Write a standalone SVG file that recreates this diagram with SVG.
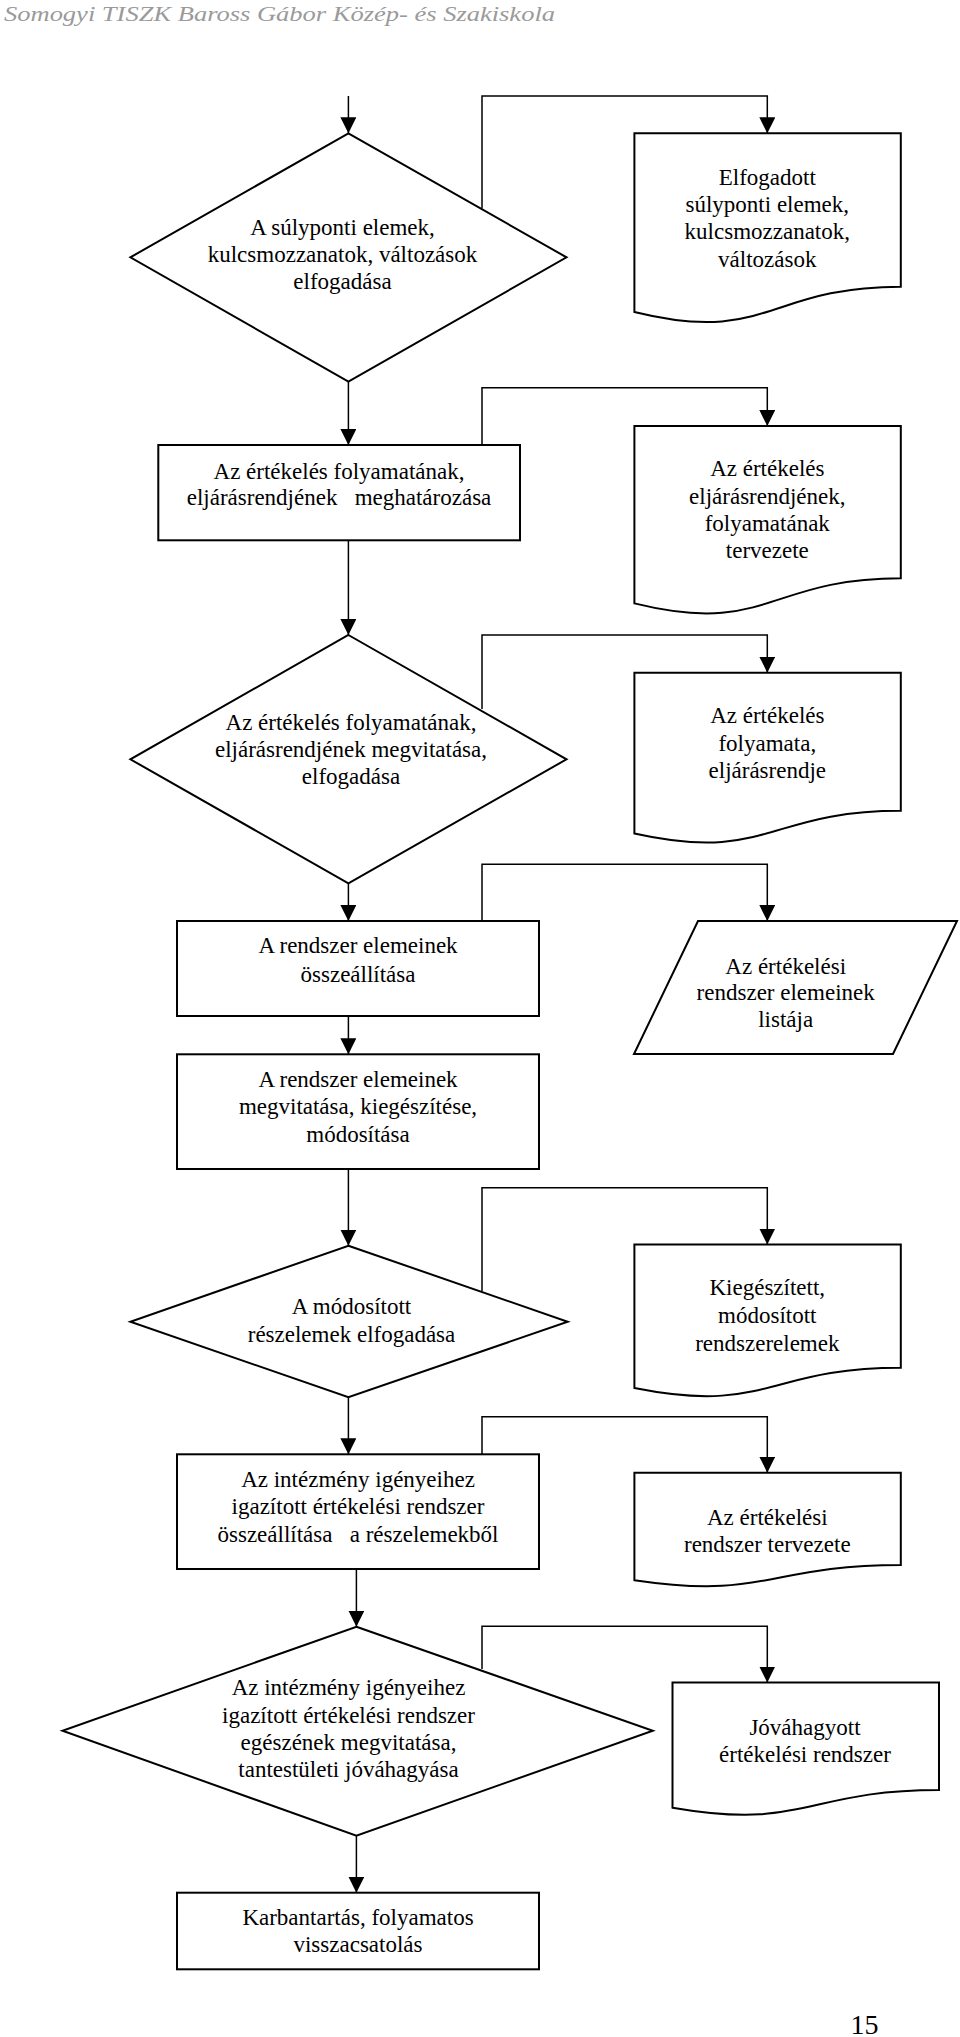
<svg xmlns="http://www.w3.org/2000/svg" width="960" height="2037" viewBox="0 0 960 2037">
<style>
.sh{fill:#fff;stroke:#000;stroke-width:2;stroke-linejoin:miter}
.cn{fill:none;stroke:#000;stroke-width:1.5}
.t{font-family:"Liberation Serif","Times New Roman",serif;font-size:23px;fill:#000;text-anchor:middle}
.hd{font-family:"Liberation Serif","Times New Roman",serif;font-size:22px;font-style:italic;fill:#9a9a9a}
.pg{font-family:"Liberation Serif","Times New Roman",serif;font-size:28px;fill:#000;text-anchor:middle}
</style>
<defs>
<marker id="ah" markerUnits="userSpaceOnUse" markerWidth="16" markerHeight="16" viewBox="0 0 16 16" refX="16" refY="8" orient="auto">
<path d="M0,0 L16,8 L0,16 Z" fill="#000"/>
</marker>
</defs>
<rect width="960" height="2037" fill="#fff"/>
<text class="hd" x="4" y="21" textLength="551" lengthAdjust="spacingAndGlyphs">Somogyi TISZK Baross Gábor Közép- és Szakiskola</text>

<g id="connectors">
<path class="cn" d="M348.4,96 V133.3" marker-end="url(#ah)"/>
<path class="cn" d="M482,208.5 V96 H767.3 V133.3" marker-end="url(#ah)"/>
<path class="cn" d="M348.4,382 V445" marker-end="url(#ah)"/>
<path class="cn" d="M482,445 V387.7 H767.3 V426" marker-end="url(#ah)"/>
<path class="cn" d="M348.4,540.3 V635" marker-end="url(#ah)"/>
<path class="cn" d="M482,709 V635 H767.3 V672.7" marker-end="url(#ah)"/>
<path class="cn" d="M348.4,883.3 V921" marker-end="url(#ah)"/>
<path class="cn" d="M482,921 V864.3 H767.3 V921" marker-end="url(#ah)"/>
<path class="cn" d="M348.4,1016 V1054.3" marker-end="url(#ah)"/>
<path class="cn" d="M348.4,1169 V1245.7" marker-end="url(#ah)"/>
<path class="cn" d="M482,1291 V1187.7 H767.3 V1244.5" marker-end="url(#ah)"/>
<path class="cn" d="M348.4,1397.3 V1454.3" marker-end="url(#ah)"/>
<path class="cn" d="M482,1454.3 V1416.7 H767.3 V1472.7" marker-end="url(#ah)"/>
<path class="cn" d="M356.4,1569 V1626.7" marker-end="url(#ah)"/>
<path class="cn" d="M482,1669 V1626.3 H767.3 V1682.5" marker-end="url(#ah)"/>
<path class="cn" d="M356.4,1835.7 V1892.7" marker-end="url(#ah)"/>
</g>

<g id="n1">
<polygon class="sh" points="348.4,133.3 566.5,257.3 348.4,381.7 130.4,257.3"/>
<text class="t" x="342.5" y="234.5">A súlyponti elemek,</text>
<text class="t" x="342.5" y="261.7">kulcsmozzanatok, változások</text>
<text class="t" x="342.5" y="288.7">elfogadása</text>
</g>
<g id="d1">
<path class="sh" d="M634.4,133.3 H900.8 V286.7 C767.6,286.7 767.6,345 634.4,312 Z"/>
<text class="t" x="767.3" y="185">Elfogadott</text>
<text class="t" x="767.3" y="212.3">súlyponti elemek,</text>
<text class="t" x="767.3" y="239.3">kulcsmozzanatok,</text>
<text class="t" x="767.3" y="266.5">változások</text>
</g>

<g id="n2">
<rect class="sh" x="158.3" y="445" width="361.7" height="95.3"/>
<text class="t" x="339" y="479">Az értékelés folyamatának,</text>
<text class="t" x="339" y="505" xml:space="preserve">eljárásrendjének   meghatározása</text>
</g>
<g id="d2">
<path class="sh" d="M634.4,426 H900.8 V578.3 C767.6,578.3 767.6,636.2 634.4,603.4 Z"/>
<text class="t" x="767.3" y="476">Az értékelés</text>
<text class="t" x="767.3" y="504">eljárásrendjének,</text>
<text class="t" x="767.3" y="531.3">folyamatának</text>
<text class="t" x="767.3" y="558.3">tervezete</text>
</g>

<g id="n3">
<polygon class="sh" points="348.4,635 566.5,759.3 348.4,883.3 130.4,759.3"/>
<text class="t" x="351" y="730">Az értékelés folyamatának,</text>
<text class="t" x="351" y="756.7">eljárásrendjének megvitatása,</text>
<text class="t" x="351" y="784.3">elfogadása</text>
</g>
<g id="d3">
<path class="sh" d="M634.4,672.7 H900.8 V810.7 C767.6,810.7 767.6,863.1 634.4,833.4 Z"/>
<text class="t" x="767.3" y="723.3">Az értékelés</text>
<text class="t" x="767.3" y="751">folyamata,</text>
<text class="t" x="767.3" y="778">eljárásrendje</text>
</g>

<g id="n4">
<rect class="sh" x="177" y="921" width="362" height="95"/>
<text class="t" x="358" y="953.3">A rendszer elemeinek</text>
<text class="t" x="358" y="981.7">összeállítása</text>
</g>
<g id="d4">
<polygon class="sh" points="698,921 957,921 893,1054 634,1054"/>
<text class="t" x="785.7" y="973.7">Az értékelési</text>
<text class="t" x="785.7" y="1000">rendszer elemeinek</text>
<text class="t" x="785.7" y="1026.7">listája</text>
</g>

<g id="n5">
<rect class="sh" x="177" y="1054.3" width="362" height="114.7"/>
<text class="t" x="358" y="1086.7">A rendszer elemeinek</text>
<text class="t" x="358" y="1114.3">megvitatása, kiegészítése,</text>
<text class="t" x="358" y="1141.7">módosítása</text>
</g>

<g id="n6">
<polygon class="sh" points="348.4,1245.7 567.7,1321.7 348.4,1397.3 130.4,1321.7"/>
<text class="t" x="351.5" y="1314">A módosított</text>
<text class="t" x="351.5" y="1341.7">részelemek elfogadása</text>
</g>
<g id="d5">
<path class="sh" d="M634.4,1244.5 H900.8 V1367.7 C767.6,1367.7 767.6,1414.6 634.4,1388 Z"/>
<text class="t" x="767.3" y="1295">Kiegészített,</text>
<text class="t" x="767.3" y="1322.7">módosított</text>
<text class="t" x="767.3" y="1350.7">rendszerelemek</text>
</g>

<g id="n7">
<rect class="sh" x="177" y="1454.3" width="362" height="114.7"/>
<text class="t" x="358" y="1486.7">Az intézmény igényeihez</text>
<text class="t" x="358" y="1514">igazított értékelési rendszer</text>
<text class="t" x="358" y="1541.7" xml:space="preserve">összeállítása   a részelemekből</text>
</g>
<g id="d6">
<path class="sh" d="M634.4,1472.7 H900.8 V1565 C767.6,1565 767.6,1600 634.4,1580.2 Z"/>
<text class="t" x="767.3" y="1525">Az értékelési</text>
<text class="t" x="767.3" y="1552.3">rendszer tervezete</text>
</g>

<g id="n8">
<polygon class="sh" points="356.4,1626.7 652.8,1730.7 356.4,1835.7 62.5,1730.7"/>
<text class="t" x="348.5" y="1695">Az intézmény igényeihez</text>
<text class="t" x="348.5" y="1722.7">igazított értékelési rendszer</text>
<text class="t" x="348.5" y="1750">egészének megvitatása,</text>
<text class="t" x="348.5" y="1776.7">tantestületi jóváhagyása</text>
</g>
<g id="d7">
<path class="sh" d="M672.5,1682.5 H939 V1790 C805.8,1790 805.8,1830.8 672.5,1807.7 Z"/>
<text class="t" x="805" y="1734.5">Jóváhagyott</text>
<text class="t" x="805" y="1761.5">értékelési rendszer</text>
</g>

<g id="n9">
<rect class="sh" x="177" y="1892.7" width="362" height="76.6"/>
<text class="t" x="358" y="1925">Karbantartás, folyamatos</text>
<text class="t" x="358" y="1951.7">visszacsatolás</text>
</g>

<text class="pg" x="864.5" y="2034">15</text>
</svg>
